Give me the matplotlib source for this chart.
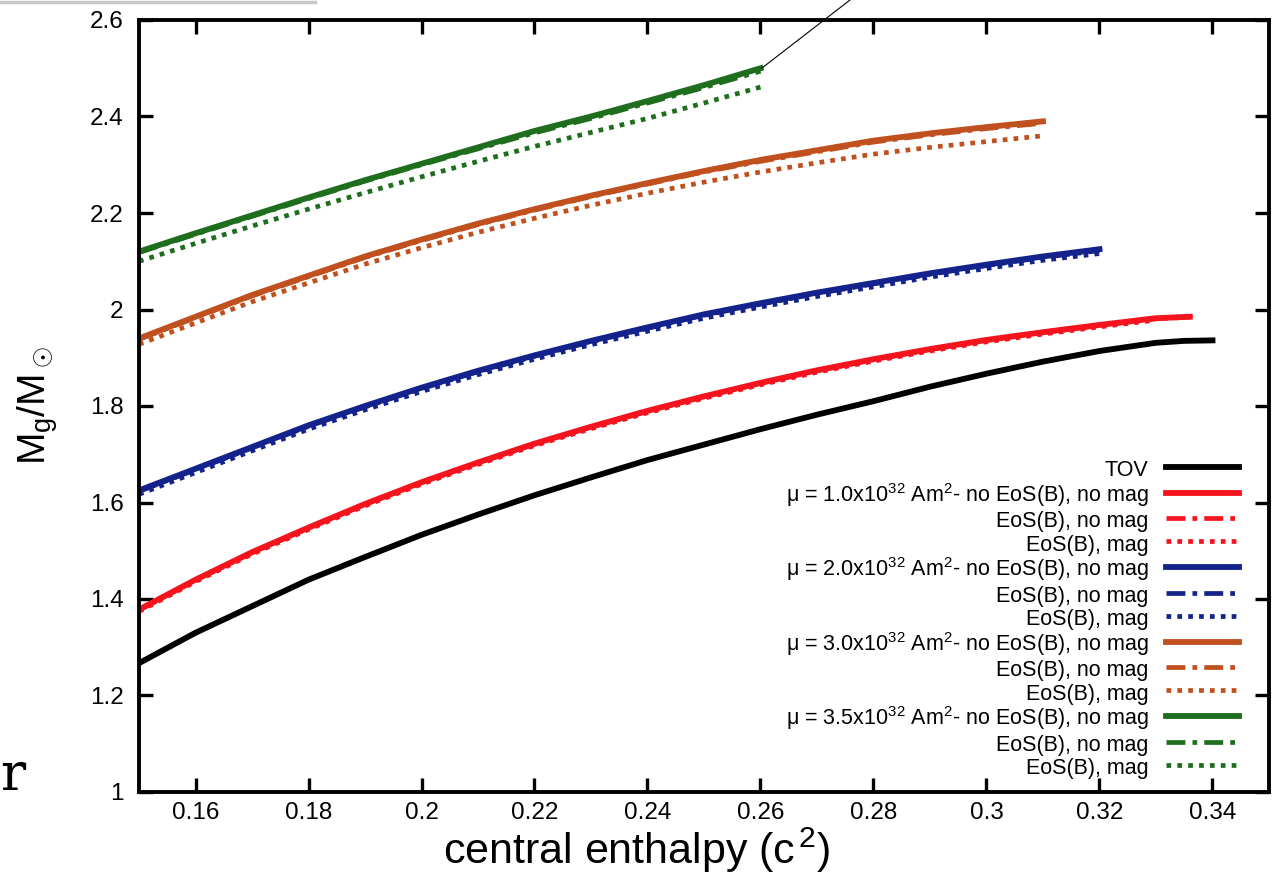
import numpy as np
import matplotlib.pyplot as plt
from matplotlib.lines import Line2D
from matplotlib.ticker import FuncFormatter, MultipleLocator

plt.rcParams['font.family'] = ['Liberation Sans', 'DejaVu Sans']
plt.rcParams['mathtext.fontset'] = 'custom'
plt.rcParams['mathtext.rm'] = 'Liberation Sans'
plt.rcParams['mathtext.it'] = 'Liberation Sans'

# central enthalpy grids
h_tov = [0.15, 0.16, 0.17, 0.18, 0.19, 0.20, 0.21, 0.22, 0.23, 0.24, 0.25, 0.26,
         0.27, 0.28, 0.29, 0.30, 0.31, 0.32, 0.33, 0.335, 0.34]
h_10 = [0.15, 0.16, 0.17, 0.18, 0.19, 0.20, 0.21, 0.22, 0.23, 0.24, 0.25, 0.26,
        0.27, 0.28, 0.29, 0.30, 0.31, 0.32, 0.33, 0.336]
h_20 = [0.15, 0.16, 0.17, 0.18, 0.19, 0.20, 0.21, 0.22, 0.23, 0.24, 0.25, 0.26,
        0.27, 0.28, 0.29, 0.30, 0.31, 0.32]
h_30 = [0.15, 0.16, 0.17, 0.18, 0.19, 0.20, 0.21, 0.22, 0.23, 0.24, 0.25, 0.26,
        0.27, 0.28, 0.29, 0.30, 0.31]
h_35 = [0.15, 0.16, 0.17, 0.18, 0.19, 0.20, 0.21, 0.22, 0.23, 0.24, 0.25, 0.26]

# gravitational mass M_g / M_sun
m_tov = [1.267, 1.33, 1.385, 1.44, 1.487, 1.533, 1.575, 1.615, 1.652, 1.688, 1.72,
         1.752, 1.782, 1.81, 1.84, 1.867, 1.892, 1.914, 1.931, 1.935, 1.936]

m_10 = [1.378, 1.44, 1.497, 1.548, 1.597, 1.642, 1.683, 1.722, 1.757, 1.79, 1.82,
        1.848, 1.874, 1.897, 1.918, 1.937, 1.953, 1.968, 1.982, 1.985]
m_10_b = [1.377, 1.439, 1.496, 1.547, 1.596, 1.641, 1.682, 1.721, 1.756, 1.789, 1.819,
          1.847, 1.873, 1.896, 1.917, 1.936, 1.952, 1.967, 1.981, 1.984]
m_10_bm = [1.374, 1.436, 1.493, 1.544, 1.593, 1.638, 1.679, 1.718, 1.753, 1.786, 1.816,
           1.844, 1.870, 1.893, 1.914, 1.933, 1.949, 1.964, 1.978]

m_20 = [1.625, 1.67, 1.715, 1.76, 1.80, 1.838, 1.873, 1.905, 1.935, 1.963, 1.99,
        2.013, 2.035, 2.055, 2.075, 2.093, 2.11, 2.125]
m_20_b = [1.623, 1.668, 1.713, 1.758, 1.798, 1.836, 1.871, 1.903, 1.933, 1.961, 1.988,
          2.011, 2.033, 2.053, 2.073, 2.091, 2.108, 2.122]
m_20_bm = [1.617, 1.662, 1.707, 1.752, 1.792, 1.830, 1.865, 1.897, 1.927, 1.955, 1.982,
           2.005, 2.027, 2.047, 2.067, 2.085, 2.102, 2.116]

m_30 = [1.94, 1.985, 2.03, 2.07, 2.11, 2.145, 2.178, 2.208, 2.236, 2.262, 2.287,
        2.31, 2.33, 2.35, 2.365, 2.378, 2.39]
m_30_b = [1.938, 1.983, 2.028, 2.068, 2.108, 2.143, 2.176, 2.206, 2.234, 2.26, 2.285,
          2.307, 2.327, 2.347, 2.362, 2.375, 2.386]
m_30_bm = [1.928, 1.972, 2.016, 2.055, 2.094, 2.128, 2.160, 2.189, 2.216, 2.241, 2.264,
           2.285, 2.304, 2.322, 2.336, 2.348, 2.36]

m_35 = [2.12, 2.158, 2.195, 2.232, 2.268, 2.302, 2.336, 2.37, 2.40, 2.432, 2.465, 2.50]
m_35_b = [2.118, 2.156, 2.193, 2.23, 2.266, 2.30, 2.333, 2.366, 2.396, 2.428, 2.46, 2.494]
m_35_bm = [2.10, 2.137, 2.173, 2.208, 2.242, 2.275, 2.307, 2.338, 2.367, 2.396, 2.428, 2.461]

labels_mu = ['1.0', '2.0', '3.0', '3.5']
colors = ['#f5141e', '#14238c', '#c0501e', '#1e6e1e']

fig = plt.figure(figsize=(12.76, 8.77), dpi=100)
ax = fig.add_axes([139 / 1276, 1 - 792 / 877, (1269 - 139) / 1276, (792 - 20) / 877])

lw = 4.2
ax.plot(h_tov, m_tov, color='black', lw=lw, label='TOV')

groups = [(h_10, m_10, m_10_b, m_10_bm),
          (h_20, m_20, m_20_b, m_20_bm),
          (h_30, m_30, m_30_b, m_30_bm),
          (h_35, m_35, m_35_b, m_35_bm)]

for (hh, m0, mb, mbm), mu, c in zip(groups, labels_mu, colors):
    ax.plot(hh, m0, color=c, lw=lw,
            label=r'$\mu$ = ' + mu + r'x10$^{32}$ Am$^2$- no EoS(B), no mag')
    ax.plot(hh, mb, color=c, lw=lw - 0.8, dashes=(4, 1.5, 1, 1.5),
            label='EoS(B), no mag')
    ax.plot(hh[:len(mbm)], mbm, color=c, lw=lw - 0.8, dashes=(1, 1.3),
            label='EoS(B), mag')

ax.set_xlim(0.15, 0.35)
ax.set_ylim(1.0, 2.6)
ax.yaxis.set_major_locator(MultipleLocator(0.2))
fmt = FuncFormatter(lambda v, p: '%g' % round(v, 4))
ax.xaxis.set_major_formatter(fmt)
ax.yaxis.set_major_formatter(fmt)
ax.set_xticks(np.arange(0.16, 0.345, 0.02))
ax.tick_params(direction='in', length=10, width=2.4, labelsize=17.5,
               top=True, right=True)
ax.tick_params(axis='x', pad=7)
ax.tick_params(axis='y', pad=11)
for s in ax.spines.values():
    s.set_linewidth(2.8)

ax.set_xlabel('central enthalpy (c$^{\\,2}$)', fontsize=31)
ax.xaxis.set_label_coords((637 - 139) / 1130, -0.044)
ax.set_ylabel(r'M$_\mathrm{g}$/M$_\odot$', fontsize=28)
ax.yaxis.set_label_coords((60 - 139) / 1130, 0.5)

leg = ax.legend(loc='lower right', frameon=False, markerfirst=False, fontsize=15.5,
                handlelength=3.4, handleheight=1.2, labelspacing=0.0,
                borderaxespad=0.2, bbox_to_anchor=(0.985, 0.0))

# pointer line and page remnants
fig.add_artist(Line2D([762 / 1276, 850 / 1276], [1 - 68 / 877, 1.0],
                      color='black', lw=0.8))
fig.add_artist(Line2D([0, 315 / 1276], [1 - 1.5 / 877, 1 - 1.5 / 877],
                      color='#c8c8c8', lw=2.5))
fig.text(0.0, 1 - 790 / 877, 'r', fontsize=38, family='DejaVu Serif')

fig.savefig('out.png', dpi=100)
